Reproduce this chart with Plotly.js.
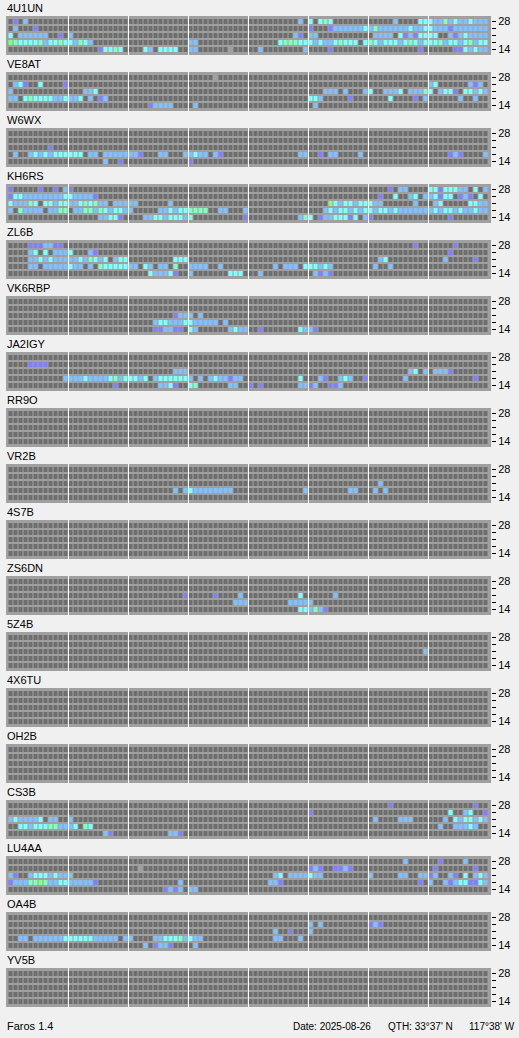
<!DOCTYPE html>
<html>
<head>
<meta charset="utf-8">
<script src="https://cdn.plot.ly/plotly-3.0.1.min.js"></script>
<style>
  html, body { margin: 0; padding: 0; background: #f0f0f0; }
  #chart { width: 519px; height: 1038px; }
</style>
</head>
<body>
<div id="chart"></div>
<script>
// Beacon call signs, top to bottom
const beacons = ['4U1UN','VE8AT','W6WX','KH6RS','ZL6B','VK6RBP','JA2IGY','RR9O','VR2B',
                 '4S7B','ZS6DN','5Z4B','4X6TU','OH2B','CS3B','LU4AA','OA4B','YV5B'];

// Band tick labels, bottom row to top row (14, 18, 21, 24, 28 MHz)
const bandLabels = ['14', '', '', '', '28'];

// Reception per band, rows listed 28,24,21,18,14 MHz; 96 quarter-hour slots in
// eight 3-hour groups. '.' none, v/b/c/m/g rising signal level, x = unconfirmed.
const E = '............';
const rx4U1UN = [
  ['.v.b........',E,E,E,'..........b.','c.cmc.......','.....b....cc','cbbmbcbbcbbb'],
  ['.b...v......',E,E,E,E,'v...vbbbbbbc','bmbbbbbbcbbc','cbbbvbbbbbbb'],
  ['c.bbbbbb..v.','b...........',E,E,'.........bv.','bb..........','.bbbb.cvbvcc','cc..bvbcbbbb'],
  ['gmccccmbccmc','cbmcb.......',E,'bb..........','......cmmmcc','cbcbbcmccc.c','mcbcccbcmcbc','ccmbccbcmbcc'],
  [E,'......vccmc.','...cb.cccc..','bb......x...','..b........b','....v.......','..........v.','.....vvcbcbb']
];
const rxVE8AT = [
  [E,E,E,'.....x......',E,E,E,E],
  ['.bcv..c....v',E,E,E,E,E,E,'bc......bvb.'],
  ['b...........','...bbc......',E,E,E,'...bbb.b...b','c..bbbc.bbbm','c.bccv.ccbcb'],
  ['bb.cmccccbbc','bbc.b.vb....',E,E,E,'ccb.....v...','....c....v.b','......b..b..'],
  [E,E,'....vbbbb...','.b..........',E,'.b..........',E,E]
];
const rxW6WX = [
  [E,E,E,E,E,E,E,E],
  [E,E,E,E,E,E,E,E],
  ['........v...',E,E,E,E,E,E,E],
  ['.b..bcbcbccc','ccc.bb.bbbbb','bbv...bb...b','bcbb.bv.....','..........bb','..v.bb....b.',E,'....vbv....b'],
  [E,'.......b..v.',E,'v...........',E,E,E,E]
];
const rxKH6RS = [
  ['v.....v..v.b','v...........',E,E,E,E,'....v.bb....','ccvcccbb.c.b'],
  ['vccbbbbbbbbc','cbbbbv......',E,E,E,E,'..v..c..bc.b','bcvcc.vbv.c.'],
  ['cbbbmc.ccbcc','bbcmcmbb.bbb','bb......b...',E,E,'....gcbccbcc','cbb......b..','.bc.....ccbb'],
  ['b.mbbbb.bbmm','.bbmmbmcbccb','b.....bbcbcc','mmmm..bb...b',E,'...bcbccbcbc','cbccbcbbbbbb','bcbccbcbbcbb'],
  [E,'......bbccv.','...bbccbcccb','m..........v','..........bm','c.vbbcccvc.b','v...........','....v.......']
];
const rxZL6B = [
  ['....vvvbbvv.',E,E,E,E,E,'.........v..','.....v......'],
  ['....bc.c.bbb','c...bv......',E,E,E,E,E,'....v.......'],
  ['....bbcbcbbb','bbcbmcbc.bcc','.........ccc',E,E,E,'..bc........','...b.....v..'],
  ['....bb.bbbbb','cbb.b.mccccc','bb.cb.bb.m..','bbbb..b.....','.....b.bbb.c','ccbcb.......','.b..b.......',E],
  [E,E,'....cbbbcv..','b.......ccc.','..b.........','.bvbv.......',E,E]
];
const rxVK6RBP = [
  [E,E,E,E,E,E,E,E],
  [E,E,E,E,E,E,E,E],
  [E,E,'.........vbb','b.b.........',E,E,E,E],
  [E,E,'.....bccbbbc','cbbbbb.b....',E,E,E,E],
  [E,E,'.....vvbbvv.','cb......bcbb','..v.......cb','bv..........',E,E]
];
const rxJA2IGY = [
  [E,E,E,E,E,E,E,E],
  ['....vvvv....',E,E,E,E,E,E,E],
  [E,E,'.........bbb',E,E,E,'........bc.b','.bbbv.......'],
  ['...........b','bbbcbbbbcmbc','ccbc.bcccccc','b.b.bcbbvbb.','..........c.','..bv..bcb..v','.......b....','.........v..'],
  [E,'.........v..','......bbcv..','cm......bb..','v.v.......bb','vb..vvb.....',E,E]
];
const rxRR9O = [[E,E,E,E,E,E,E,E],[E,E,E,E,E,E,E,E],[E,E,E,E,E,E,E,E],[E,E,E,E,E,E,E,E],[E,E,E,E,E,E,E,E]];
const rxVR2B = [
  [E,E,E,E,E,E,E,E],
  [E,E,E,E,E,E,E,E],
  [E,E,E,E,E,E,'..b.........',E],
  [E,E,'.........b.b','cbbbbbbbb...','...........b','........bb..','.b.b........',E],
  [E,E,E,E,E,E,E,E]
];
const rx4S7B = [[E,E,E,E,E,E,E,E],[E,E,E,E,E,E,E,E],[E,E,E,E,E,E,E,E],[E,E,E,E,E,E,E,E],[E,E,E,E,E,E,E,E]];
const rxZS6DN = [
  [E,E,E,E,E,E,E,E],
  [E,E,E,E,E,E,E,E],
  [E,E,'...........v','.....v....b.','..........c.','.....b......',E,E],
  [E,E,E,'.........bbb','........bbbb','b...........',E,E],
  [E,E,E,E,'..........cc','bmbv........',E,E]
];
const rx5Z4B = [
  [E,E,E,E,E,E,E,E],
  [E,E,E,E,E,E,E,E],
  [E,E,E,E,E,E,'...........b',E],
  [E,E,E,E,E,E,E,E],
  [E,E,E,E,E,E,E,E]
];
const rx4X6TU = [[E,E,E,E,E,E,E,E],[E,E,E,E,E,E,E,E],[E,E,E,E,E,E,E,E],[E,E,E,E,E,E,E,E],[E,E,E,E,E,E,E,E]];
const rxOH2B = [[E,E,E,E,E,E,E,E],[E,E,E,E,E,E,E,E],[E,E,E,E,E,E,E,E],[E,E,E,E,E,E,E,E],[E,E,E,E,E,E,E,E]];
const rxCS3B = [
  [E,E,E,E,E,E,'....v.......','.........v..'],
  [E,E,E,E,E,'v...........',E,'....c..bc..v'],
  ['bcbbbbc.bb..','b...........',E,E,E,E,'.b....bbb...','...b.cbccbcb'],
  ['..ccbcccmmbb','bc.mc.......',E,E,E,E,E,'..b..bbbcb..'],
  [E,'.......bv...','........bbv.',E,E,E,E,E]
];
const rxLU4AA = [
  [E,E,E,E,E,E,'.......b....','..v....b....'],
  [E,E,'..x.........',E,E,'vbv..vvbv...',E,'.v.......v..'],
  ['bv..bcccbcbb','b...........',E,E,'.....bc.bbbb','cbb.........','b.....bb..bb','vb..bv.c.bcb'],
  ['vbbbmmgmbbcc','bbbbbv......','..........b.',E,'....bbv.....',E,'..........v.','b..bvbccvvcb'],
  [E,E,'.......vbvb.','bb..........',E,E,E,E]
];
const rxOA4B = [
  [E,E,E,E,E,E,E,E],
  [E,E,E,E,E,'b.b.........','vbv.........',E],
  [E,E,E,E,'.....b..v...','b...........',E,E],
  ['..bb.bbbbbbc','cccccbbbbb.b','b....bbcccmb','cbb.........','.....bb...b.',E,E,E],
  [E,E,'...b.vbbv...','.b..........',E,E,E,E]
];
const rxYV5B = [[E,E,E,E,E,E,E,E],[E,E,E,E,E,E,E,E],[E,E,E,E,E,E,E,E],[E,E,E,E,E,E,E,E],[E,E,E,E,E,E,E,E]];

const reception = [rx4U1UN, rxVE8AT, rxW6WX, rxKH6RS, rxZL6B, rxVK6RBP, rxJA2IGY, rxRR9O, rxVR2B,
                   rx4S7B, rxZS6DN, rx5Z4B, rx4X6TU, rxOH2B, rxCS3B, rxLU4AA, rxOA4B, rxYV5B];

// Signal level codes and their cell colours
const levelCodes  = ['.', 'v', 'b', 'c', 'm', 'g', 'x'];
const levelColors = ['#6e6e6e', '#8080ff', '#80c0ff', '#80ffff', '#80ffc0', '#80ff80', '#a0a0a0'];

const W = 519, H = 1038;
const FONT = 'Liberation Sans, Arial, sans-serif';
const boxLeft = 6, boxRight = 491, firstTop = 16, pitch = 56, boxH = 39;

// Stepped colour scale: one flat band per level
const colorscale = [];
levelColors.forEach((c, i) => {
  colorscale.push([i / levelColors.length, c]);
  colorscale.push([(i + 1) / levelColors.length, c]);
});

const slots = Array.from({length: 96}, (_, i) => i);
const rowsIdx = [0, 1, 2, 3, 4];

const data = [];
const layout = {
  width: W, height: H,
  margin: {l: 0, r: 0, t: 0, b: 0},
  paper_bgcolor: '#f0f0f0',
  plot_bgcolor: '#a0a0a0',
  showlegend: false,
  font: {family: FONT, size: 11, color: '#000'},
  annotations: [],
  shapes: []
};

beacons.forEach((name, k) => {
  const n = k === 0 ? '' : String(k + 1);
  const top = firstTop + pitch * k;
  const bottom = top + boxH;
  // rows top→bottom in the source; heatmap wants bottom row first
  const z = reception[k].slice().reverse().map(groups =>
    groups.join('').split('').map(ch => levelCodes.indexOf(ch)));

  data.push({
    type: 'heatmap',
    x: slots, y: rowsIdx, z: z,
    xaxis: 'x' + n, yaxis: 'y' + n,
    colorscale: colorscale, zmin: -0.5, zmax: levelColors.length - 0.5,
    showscale: false, xgap: 1, ygap: 2, hoverinfo: 'skip'
  });

  layout['xaxis' + n] = {
    domain: [boxLeft / W, boxRight / W], anchor: 'y' + n,
    range: [-1, 96], showticklabels: false, ticks: '',
    showgrid: false, zeroline: false, showline: false, fixedrange: true
  };
  layout['yaxis' + n] = {
    domain: [1 - bottom / H, 1 - top / H], anchor: 'x' + n, side: 'right',
    range: [-0.5 - 2 / 7, 4.5 + 2 / 7],
    tickvals: rowsIdx, ticktext: bandLabels,
    ticks: 'outside', ticklen: 4, tickwidth: 1, tickcolor: '#000',
    tickfont: {family: FONT, size: 11, color: '#000'},
    showgrid: false, zeroline: false, showline: false, fixedrange: true
  };

  // 3-hour separators
  for (let g = 1; g < 8; g++) {
    layout.shapes.push({
      type: 'line', xref: 'x' + n, yref: 'y' + n + ' domain',
      x0: 12 * g - 0.5, x1: 12 * g - 0.5, y0: 0, y1: 1,
      line: {color: '#ffffff', width: 1}, layer: 'above'
    });
  }

  layout.annotations.push({
    text: name, xref: 'paper', yref: 'paper',
    x: (boxLeft - 1) / W, y: 1 - (top - 8) / H,
    xanchor: 'left', yanchor: 'middle', showarrow: false,
    font: {family: FONT, size: 11, color: '#000'}
  });
});

// Footer: program name on the left, date and station location on the right
const footY = 1 - 1026 / H;
const footer = [
  ['Faros 1.4', 5, 'left', 11],
  ['Date: 2025-08-26', 291, 'left', 10],
  ["QTH: 33°37' N", 386, 'left', 10],
  ["117°38' W", 517, 'right', 10]
];
footer.forEach(([t, px, anchor, size]) => {
  layout.annotations.push({
    text: t, xref: 'paper', yref: 'paper', x: px / W, y: footY,
    xanchor: anchor, yanchor: 'middle', showarrow: false,
    font: {family: FONT, size: size, color: '#000'}
  });
});

Plotly.newPlot('chart', data, layout, {staticPlot: true, displayModeBar: false});
</script>
</body>
</html>
